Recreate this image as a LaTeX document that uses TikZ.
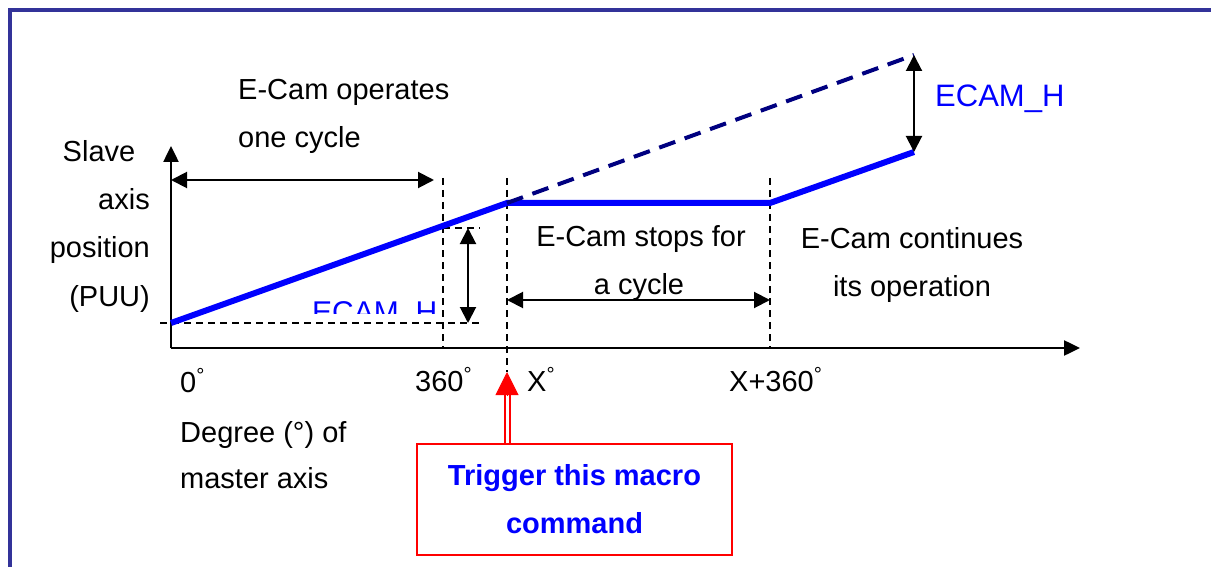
\documentclass[tikz,border=0pt]{standalone}
\usepackage{fontspec}
\setmainfont{Liberation Sans}
\usetikzlibrary{arrows.meta}
\definecolor{framecol}{RGB}{51,51,153}
\definecolor{camnavy}{RGB}{0,0,128}
\newcommand{\dg}{\textsuperscript{°}}

\begin{document}
\begin{tikzpicture}[x=1pt, y=-1pt,
  lbl/.style={inner sep=0pt, font=\fontsize{29}{48}\selectfont},
  guide/.style={black, line width=1.5pt, dash pattern=on 7pt off 5pt},
  dimarrow/.style={black, line width=2pt, {Triangle[length=16pt,width=16pt]}-{Triangle[length=16pt,width=16pt]}},
  axis/.style={black, line width=2.5pt, -{Triangle[length=16pt,width=15pt]}},
  camline/.style={blue, line width=6pt},
  trigbox/.style={draw=red, line width=1.5pt, minimum width=315pt, minimum height=111pt, align=center, text=blue, inner sep=0pt, font=\fontsize{29}{48}\selectfont\bfseries}]
\useasboundingbox (0,0) rectangle (1211,567);
\draw[framecol, line width=3.5pt] (10,567) -- (10,10) -- (1211,10);
\coordinate (o) at (171,348);
\coordinate (ytip) at (171,146);
\coordinate (xtip) at (1080,348);
\coordinate (p0) at (171,323);
\coordinate (p1) at (507,203);
\coordinate (p2) at (770,203);
\coordinate (p3) at (914,152);
\coordinate (q3) at (914,55);
\coordinate (c360) at (443,348);
\coordinate (cx) at (507,372);
\coordinate (cx360) at (770,348);
\draw[guide] (443,178) -- (c360);
\draw[guide] (507,178) -- (cx);
\draw[guide] (770,178) -- (cx360);
\draw[guide] (160,323) -- (482,323);
\draw[guide] (443,228) -- (480,228);
\draw[axis] (o) -- (ytip);
\draw[axis] (o) -- (xtip);
\draw[camline] (p0) -- (p1) -- (p2) -- (p3);
\draw[camnavy, line width=4pt, dash pattern=on 17pt off 10pt] (p1) -- (q3);
\draw[dimarrow] (171,180) -- (434,180);
\draw[dimarrow] (468,228) -- (468,323);
\draw[dimarrow] (507,300) -- (770,300);
\draw[dimarrow] (q3) -- (p3);
\node[lbl, anchor=base west] (oper1) at (238,100) {E-Cam operates};
\node[lbl, anchor=base west] (oper2) at (238,148) {one cycle};
\node[lbl, anchor=base] (slave1) at (99,162) {Slave};
\node[lbl, anchor=base east] (slave2) at (150,210) {axis};
\node[lbl, anchor=base east] (slave3) at (150,258) {position};
\node[lbl, anchor=base east] (slave4) at (150,306) {(PUU)};
\node[lbl, anchor=base west] (deg0) at (180,392) {0\dg};
\node[lbl, anchor=base west] (deg360) at (415,391) {360\dg};
\node[lbl, anchor=base west] (degx) at (527,391) {X\dg};
\node[lbl, anchor=base west] (degx360) at (729,391) {X+360\dg};
\node[lbl, anchor=base west] (master1) at (180,442) {Degree (°) of};
\node[lbl, anchor=base west] (master2) at (180,488) {master axis};
\node[lbl, anchor=base] (stop1) at (641,247) {E-Cam stops for};
\node[lbl, anchor=base] (stop2) at (639,294) {a cycle};
\node[lbl, anchor=base] (cont1) at (912,248) {E-Cam continues};
\node[lbl, anchor=base] (cont2) at (912,296) {its operation};
\node[lbl, text=blue, font=\fontsize{31}{36}\selectfont, anchor=base west] (ecamhigh) at (935,107) {ECAM\_H};
\begin{scope}
\clip (300,290) rectangle (445,313);
\node[lbl, text=blue, font=\fontsize{30}{36}\selectfont, anchor=base west] (ecamlow) at (312,322) {ECAM\_H};
\end{scope}
\node[trigbox] (trig) at (574.5,499.5) {Trigger this macro\\command};
\draw[red, line width=2pt, double=white, double distance=3pt] (trig.north -| cx) -- (507,393);
\draw[red, line width=1pt, -{Triangle[length=23pt,width=23pt]}] (507,396) -- (cx);
\end{tikzpicture}
\end{document}
